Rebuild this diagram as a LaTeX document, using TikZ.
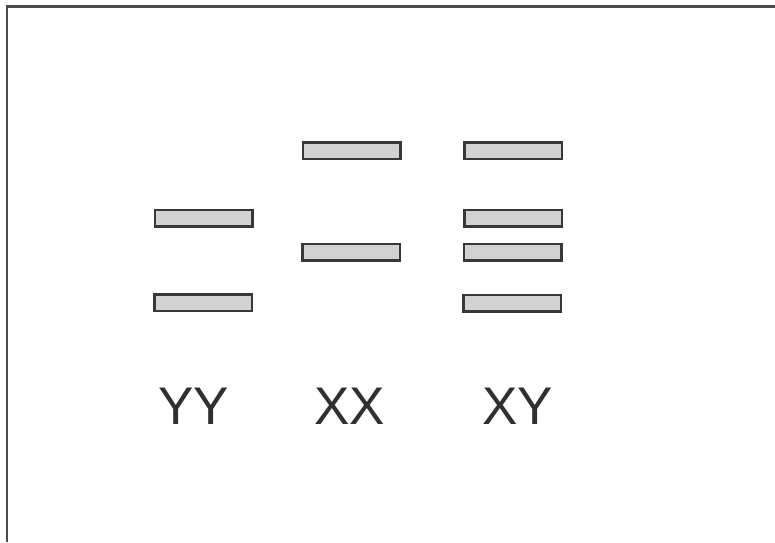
\documentclass[tikz,border=0pt]{standalone}
\usepackage{fontspec}
\setmainfont{Liberation Sans}
\definecolor{bandfill}{HTML}{D2D2D2}
\definecolor{bandline}{HTML}{383838}
\definecolor{frameline}{HTML}{4A4A4A}
\definecolor{labeltext}{HTML}{303030}
\begin{document}
\begin{tikzpicture}[x=1pt,y=-1pt,
  band/.style={draw=bandline,fill=bandfill,line width=2.5pt,rectangle,inner sep=0pt,minimum width=97.5pt,minimum height=16.5pt,anchor=center},
  lanelabel/.style={text=labeltext,font=\fontsize{53}{60}\selectfont,inner sep=0pt,anchor=center}]
\useasboundingbox (0,0) rectangle (775,542);
\fill[white] (0,0) rectangle (775,542);
% frame (top and left edges visible)
\coordinate (frameBL) at (7,542);
\coordinate (frameTL) at (7,6.5);
\coordinate (frameTR) at (775,6.5);
\draw[frameline,line width=2.5pt] (frameBL) -- (frameTL) -- (frameTR);
% YY lane
\node[band] (yy1) at (203.5,218) {};
\node[band] (yy2) at (203,302.5) {};
% XX lane
\node[band] (xx1) at (351.5,150.5) {};
\node[band] (xx2) at (351,252) {};
% XY lane
\node[band] (xy1) at (513.3,150.5) {};
\node[band] (xy2) at (513.2,218.3) {};
\node[band] (xy3) at (512.5,252) {};
\node[band] (xy4) at (512,303) {};
% labels
\node[lanelabel] (lyy) at (193.5,406) {YY};
\node[lanelabel] (lxx) at (349.5,406) {XX};
\node[lanelabel] (lxy) at (517.4,406) {XY};
\end{tikzpicture}
\end{document}
